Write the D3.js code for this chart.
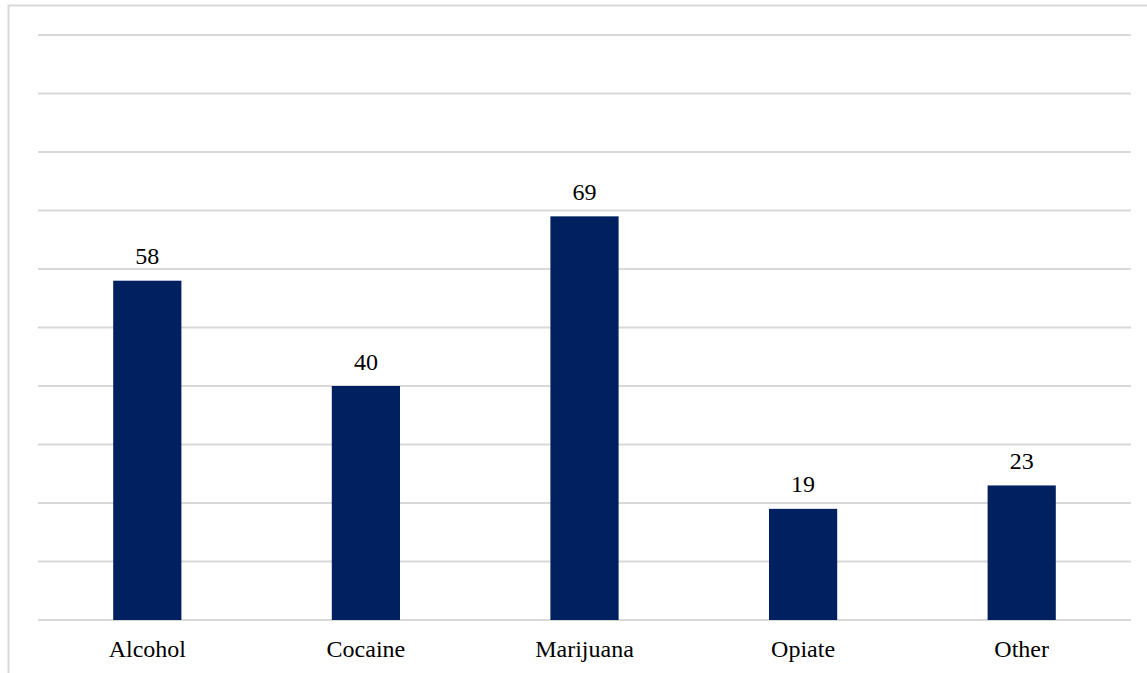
<!DOCTYPE html>
<html>
<head>
<meta charset="utf-8">
<script src="https://cdn.jsdelivr.net/npm/d3@7"></script>
<style>
  html, body { margin: 0; padding: 0; background: #fff; overflow: hidden; }
  svg { display: block; }
</style>
</head>
<body>
<svg id="chart" width="1147" height="673"></svg>
<script>
// Substance categories and counts
const categories = ["Alcohol", "Cocaine", "Marijuana", "Opiate", "Other"];
const counts = [58, 40, 69, 19, 23];
const yTicks = [0, 10, 20, 30, 40, 50, 60, 70, 80, 90, 100];

const W = 1147, H = 673;
const plot = { left: 38, right: 1131, top: 35, bottom: 620 };
const font = "'Liberation Serif', 'Times New Roman', Times, serif";

const svg = d3.select("#chart");

// chart frame
svg.append("rect")
  .attr("x", 8.5).attr("y", 5.5)
  .attr("width", W + 10).attr("height", H + 10)
  .attr("fill", "none")
  .attr("stroke", "#d9d9d9")
  .attr("stroke-width", 2);

const x = d3.scaleBand()
  .domain(categories)
  .range([plot.left, plot.right])
  .padding(0);

const y = d3.scaleLinear()
  .domain([0, 100])
  .range([plot.bottom, plot.top]);

// horizontal gridlines
svg.append("g")
  .selectAll("line")
  .data(yTicks)
  .join("line")
  .attr("x1", plot.left).attr("x2", plot.right)
  .attr("y1", d => y(d)).attr("y2", d => y(d))
  .attr("stroke", "#d9d9d9")
  .attr("stroke-width", 2);

const barW = x.bandwidth() * 0.312;

// bars
svg.append("g")
  .selectAll("rect")
  .data(categories)
  .join("rect")
  .attr("x", (d) => x(d) + (x.bandwidth() - barW) / 2)
  .attr("y", (d, i) => y(counts[i]))
  .attr("width", barW)
  .attr("height", (d, i) => y(0) - y(counts[i]))
  .attr("fill", "#002060");

// value labels
svg.append("g")
  .selectAll("text")
  .data(categories)
  .join("text")
  .attr("x", d => x(d) + x.bandwidth() / 2)
  .attr("y", (d, i) => y(counts[i]) - 16.5)
  .attr("text-anchor", "middle")
  .attr("font-family", font)
  .attr("font-size", 24)
  .attr("fill", "#000")
  .text((d, i) => counts[i]);

// category axis
const xAxis = svg.append("g")
  .attr("transform", `translate(0,${plot.bottom})`)
  .call(d3.axisBottom(x).tickSize(0).tickPadding(0));
xAxis.select(".domain").remove();
xAxis.selectAll("text")
  .attr("dy", null)
  .attr("y", 36.7)
  .attr("font-family", font)
  .attr("font-size", 24)
  .attr("fill", "#000");
</script>
</body>
</html>
